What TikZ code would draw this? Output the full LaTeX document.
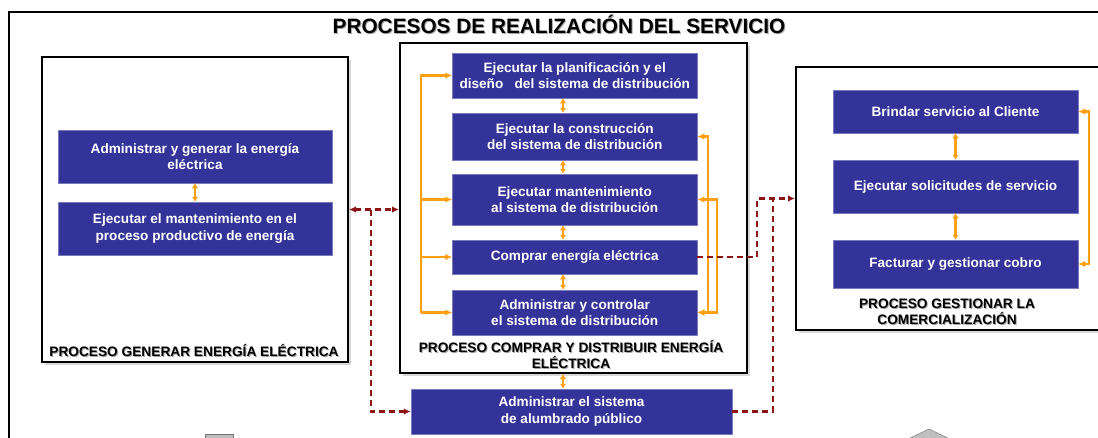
\documentclass[tikz,border=0pt]{standalone}
\usepackage{fontspec}
\setmainfont{Liberation Sans}
\usetikzlibrary{arrows.meta,shadows}
\definecolor{taskblue}{RGB}{51,51,153}
\definecolor{flowor}{RGB}{255,160,20}
\definecolor{linkred}{RGB}{140,20,20}
\newcommand{\shtxt}[1]{\leavevmode\rlap{\kern1pt\raisebox{-1pt}{\textcolor{black!35}{#1}}}#1}

\begin{document}
\begin{tikzpicture}[x=1pt, y=-1pt, >={Latex[length=7pt,width=6.5pt]},
   task/.style={fill=taskblue, draw=taskblue!65!white, line width=0.5pt, text=white,
     align=center, inner sep=0pt, font=\bfseries\fontsize{13.6}{16.5}\selectfont},
   frame/.style={draw=black, line width=2pt, fill=white, inner sep=0pt,
     drop shadow={shadow xshift=2.5pt, shadow yshift=-2.5pt, fill=black!30}},
   tag/.style={align=center, inner sep=0pt, font=\bfseries\fontsize{13.7}{16}\selectfont},
   flow/.style={draw=flowor, line width=2.2pt},
   pair/.style={flow, {Latex[length=5pt,width=6.5pt]}-{Latex[length=5pt,width=6.5pt]}},
   link/.style={draw=linkred, line width=2.2pt, dash pattern=on 6pt off 4pt}
   ]
   \useasboundingbox (0,0) rectangle (1098,437);
   \clip (0,0) rectangle (1098,437);

   \node[frame, minimum width=1121, minimum height=458] (page) at (569.5,241) {};
   \node[font=\bfseries\fontsize{20.8}{24}\selectfont] (title) at (559,25)
     {\shtxt{PROCESOS DE REALIZACIÓN DEL SERVICIO}};

   % procesos
   \node[frame, minimum width=306, minimum height=305] (genproc) at (195,209.5) {};
   \node[frame, minimum width=347, minimum height=330] (distproc) at (573.5,208) {};
   \node[frame, minimum width=314, minimum height=263] (comproc) at (953,198.5) {};

   \path (195,156.5) node[task, minimum width=274, minimum height=53] (gen1)
     {Administrar y generar la energía\\eléctrica}
   (195,228.5) node[task, minimum width=274, minimum height=53] (gen2)
     {Ejecutar el mantenimiento en el\\proceso productivo de energía};

   \path (574.75,75.5) node[task, minimum width=244.5, minimum height=45] (dis1)
     {Ejecutar la planificación y el\\diseño\ \ \ del sistema de distribución}
   (574.75,136.5) node[task, minimum width=244.5, minimum height=47] (dis2)
     {Ejecutar la construcción\\del sistema de distribución}
   (574.75,199.5) node[task, minimum width=244.5, minimum height=51] (dis3)
     {Ejecutar mantenimiento\\al sistema de distribución}
   (574.75,257) node[task, minimum width=244.5, minimum height=34] (dis4)
     {Comprar energía eléctrica}
   (574.75,312.5) node[task, minimum width=244.5, minimum height=45] (dis5)
     {Administrar y controlar\\el sistema de distribución};

   \node[task, minimum width=321, minimum height=45] (alum) at (571.5,411.5)
     {Administrar el sistema\\de alumbrado público};

   \path (955.5,111.5) node[task, minimum width=245, minimum height=43] (com1)
     {Brindar servicio al Cliente}
   (955.5,186.5) node[task, minimum width=245, minimum height=53] (com2)
     {Ejecutar solicitudes de servicio}
   (955.5,264) node[task, minimum width=245, minimum height=48] (com3)
     {Facturar y gestionar cobro};

   \node[tag] (gentag) at (194,351) {\shtxt{PROCESO GENERAR ENERGÍA ELÉCTRICA}};
   \node[tag] (disttag) at (571,355)
     {\shtxt{PROCESO COMPRAR Y DISTRIBUIR ENERGÍA}\\\shtxt{ELÉCTRICA}};
   \node[tag] (comtag) at (947,312)
     {\shtxt{PROCESO GESTIONAR LA}\\\shtxt{COMERCIALIZACIÓN}};

   % flechas naranjas
   \coordinate (bus) at (421,0);
   \coordinate (rin) at (708,0);
   \coordinate (rout) at (717,0);
   \coordinate (spine) at (563,0);
   \coordinate (cbus) at (1089,0);

   \draw[pair] (gen1) -- (gen2);
   \foreach \a/\b in {dis1/dis2,dis2/dis3,dis3/dis4,dis4/dis5}
     \draw[pair] (spine |- \a.south) -- (spine |- \b.north);
   \draw[pair] (spine |- distproc.south) -- (spine |- alum.north);
   \draw[pair] (com1) -- (com2);
   \draw[pair] (com2) -- (com3);

   \draw[flow,->] (bus |- dis5.west) -- (bus |- dis1.west) -- (dis1.west);
   \foreach \t in {dis3,dis4,dis5}
     \draw[flow,->] (bus |- \t.west) -- (\t.west);
   \draw[flow,<->] (dis2.east) -- (dis2.east -| rin) -- (dis5.east -| rin) -- (dis5.east);
   \draw[flow,<->] (dis3.east) -- (dis3.east -| rout) -- (dis5.east -| rout) -- (dis5.east);
   \draw[flow,<->] (com1.east) -- (com1.east -| cbus) -- (com3.east -| cbus) -- (com3.east);

   % enlaces
   \coordinate (gd) at (371,0);
   \coordinate (lk1) at (757,198.5);
   \coordinate (lk2) at (773,198.5);
   \draw[link,<->] (genproc.east) -- (distproc.west |- genproc.east);
   \draw[link,->] (gd |- genproc.east) |- (alum.west);
   \draw[link,->] (dis4.east) -| (lk1) -- (comproc.west);
   \draw[link] (alum.east) -| (lk2);

   \draw[fill=black!25, draw=black!55] (205,434) rectangle (233,450);
   \draw[fill=black!25, draw=black!55] (910,450) -- (910,438) -- (929,429) -- (948,438) -- (948,450) -- cycle;
\end{tikzpicture}
\end{document}
